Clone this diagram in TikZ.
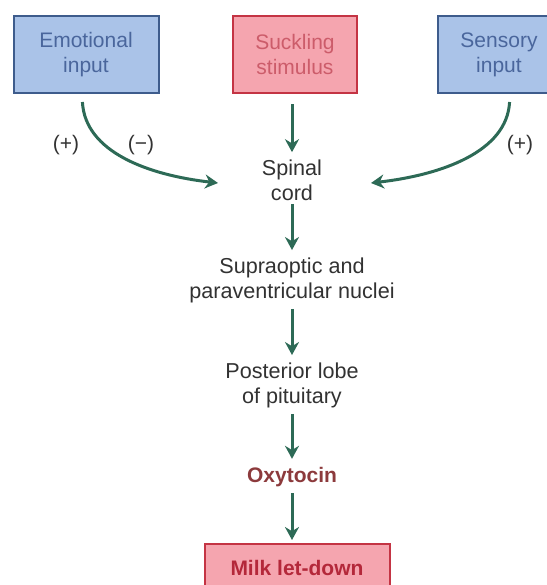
\documentclass[tikz,border=0pt]{standalone}
\usepackage{fontspec}
\setmainfont{Liberation Sans}
\usepackage{xcolor}
\usetikzlibrary{arrows.meta,positioning,calc}
\definecolor{inblue}{RGB}{170,195,232}
\definecolor{inbluedark}{RGB}{62,92,140}
\definecolor{inbluetext}{RGB}{74,102,156}
\definecolor{suckpink}{RGB}{245,165,175}
\definecolor{suckred}{RGB}{196,52,68}
\definecolor{sucktext}{RGB}{204,92,106}
\definecolor{milkred}{RGB}{180,40,58}
\definecolor{oxybrown}{RGB}{140,58,60}
\definecolor{pathgreen}{RGB}{45,106,86}
\definecolor{textgray}{RGB}{50,50,50}

\begin{document}
\begin{tikzpicture}[x=0.5pt, y=-0.5pt, font={\fontsize{10.5}{12.5}\selectfont}, >={Stealth[length=6.5pt,width=7pt]},
  inbox/.style={draw=inbluedark, fill=inblue, line width=1pt, text=inbluetext, align=center, minimum height=38.5pt},
  pinkbox/.style={draw=suckred, fill=suckpink, line width=1pt, align=center, minimum height=38.5pt},
  stage/.style={text=textgray, align=center, inner sep=0pt, font={\fontsize{10.8}{12.5}\selectfont}},
  sign/.style={text=textgray, inner sep=0pt},
  flow/.style={->, pathgreen, line width=1.5pt, shorten <=3pt, shorten >=3.5pt}]
  \useasboundingbox (0,0) rectangle (547,585);
  \clip (0,0) rectangle (547,585);

  % Top row: the three inputs
  \node[inbox, minimum width=72.5pt] (emo) at (86,54.5) {Emotional\\input};
  \node[pinkbox, text=sucktext, minimum width=62pt] (suck) at (295,54.5) {Suckling\\stimulus};
  \node[inbox, minimum width=61pt] (sen) at (499,54.5) {Sensory\\input};

  % Main column: spinal cord down to the let-down
  \node[stage] (cord) at (292,180) {Spinal\\cord};
  \node[stage] (nuc) at (292,280) {Supraoptic and\\paraventricular nuclei};
  \node[stage] (lobe) at (292,385) {Posterior lobe\\of pituitary};
  \node[stage, text=oxybrown, font={\fontsize{10.5}{12.5}\selectfont\bfseries}] (oxy) at (292,477) {Oxytocin};
  \node[pinkbox, text=milkred, font={\fontsize{10.5}{12.5}\selectfont\bfseries},
        minimum width=92.5pt, minimum height=24pt] (milk) at (297,568) {Milk let-down};

  % Side inputs meet the cord from left and right
  \coordinate (lin) at (218,183);
  \coordinate (rin) at (371,183);
  \draw[flow, shorten <=4pt, shorten >=0pt] ([xshift=-2pt]emo.south) .. controls +(3,58) and +(-70,-8) .. (lin);
  \draw[flow, shorten <=4pt, shorten >=0pt] ([xshift=5.5pt]sen.south) .. controls +(-3,58) and +(70,-8) .. (rin);
  \node[sign] (pl) at (66,145) {(+)};
  \node[sign] (mi) at (141,145) {(−)};
  \node[sign] (pr) at (520,145) {(+)};

  % Straight steps
  \draw[flow, shorten <=5pt] (cord.north |- suck.south) -- (cord.north);
  \draw[flow, shorten <=1.5pt] (cord) -- (nuc);
  \draw[flow] (nuc) -- (lobe);
  \draw[flow, shorten >=4pt] (lobe) -- (oxy);
  \draw[flow, shorten >=1.5pt] (oxy) -- (milk.north -| oxy);
\end{tikzpicture}
\end{document}
